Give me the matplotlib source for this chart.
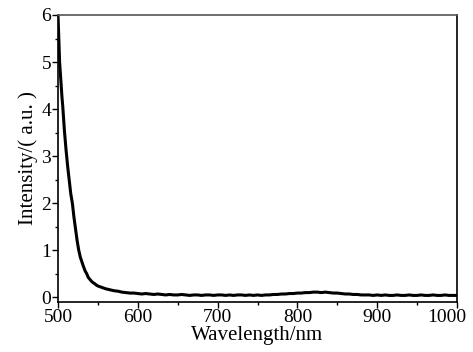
import matplotlib
matplotlib.use("Agg")
import matplotlib.pyplot as plt
from matplotlib.ticker import MultipleLocator
from matplotlib.transforms import ScaledTranslation

wl_head = [500, 501, 502, 503, 504, 505, 506, 507, 508, 509, 510, 512, 514, 516, 518,
           520, 522, 524, 526, 528, 530, 532, 534, 536, 538, 540, 542, 544, 546, 548]
int_head = [6.0, 5.5, 5.0, 4.75, 4.5, 4.25, 4.05, 3.8, 3.55, 3.35, 3.15, 2.8, 2.5, 2.2, 2.0,
            1.7, 1.45, 1.2, 1.0, 0.85, 0.75, 0.65, 0.56, 0.5, 0.42, 0.38, 0.34, 0.31, 0.29, 0.26]

wl_tail = list(range(550, 1001, 5))
int_tail = [0.24, 0.21, 0.18, 0.16, 0.14, 0.13, 0.11, 0.10, 0.09, 0.09,
            0.08, 0.07, 0.08, 0.07, 0.06, 0.07, 0.06, 0.05, 0.06, 0.05,
            0.05, 0.06, 0.05, 0.04, 0.05, 0.05, 0.04, 0.05, 0.05, 0.04,
            0.05, 0.05, 0.04, 0.05, 0.04, 0.05, 0.05, 0.04, 0.05, 0.04,
            0.05, 0.04, 0.05, 0.05, 0.06, 0.06, 0.07, 0.07, 0.08, 0.08,
            0.09, 0.09, 0.10, 0.10, 0.11, 0.11, 0.10, 0.11, 0.10, 0.09,
            0.09, 0.08, 0.07, 0.07, 0.06, 0.06, 0.05, 0.05, 0.05, 0.04,
            0.05, 0.04, 0.05, 0.04, 0.04, 0.05, 0.04, 0.04, 0.05, 0.04,
            0.04, 0.05, 0.04, 0.04, 0.05, 0.04, 0.04, 0.05, 0.04, 0.04,
            0.04]

x_ticks = [500, 600, 700, 800, 900, 1000]
y_ticks = [0, 1, 2, 3, 4, 5, 6]

wavelength = wl_head + wl_tail
intensity = int_head + int_tail

plt.rcParams['font.family'] = ['Liberation Serif', 'DejaVu Serif']

fig = plt.figure(figsize=(4.73, 3.52), dpi=100)
ax = fig.add_axes([58/473, 1 - 302/352, (457-58)/473, (302-15)/352])
ax.plot(wavelength, intensity, color='black', lw=2.2)

ax.set_xlim(500, 1000)
ax.set_ylim(-0.1, 6)
ax.set_xticks(x_ticks)
ax.set_yticks(y_ticks)
ax.xaxis.set_minor_locator(MultipleLocator(50))
ax.yaxis.set_minor_locator(MultipleLocator(0.5))
ax.tick_params(which='major', direction='out', length=4, width=1, labelsize=14, pad=1)
ax.tick_params(which='minor', direction='out', length=2.5, width=1)

for s in ['left', 'bottom', 'right']:
    ax.spines[s].set_color('black')
    ax.spines[s].set_linewidth(1.2)
ax.spines['top'].set_color('#555555')
ax.spines['top'].set_linewidth(1.2)

ax.set_xlabel('Wavelength/nm', fontsize=15, labelpad=0)
ax.set_ylabel('Intensity/( a.u. )', fontsize=15, labelpad=2)

fig.canvas.draw()
for lab in ax.get_xticklabels():
    if lab.get_text() == '1000':
        lab.set_transform(lab.get_transform() + ScaledTranslation(-10/100, 0, fig.dpi_scale_trans))

fig.savefig('out.png', dpi=100)
